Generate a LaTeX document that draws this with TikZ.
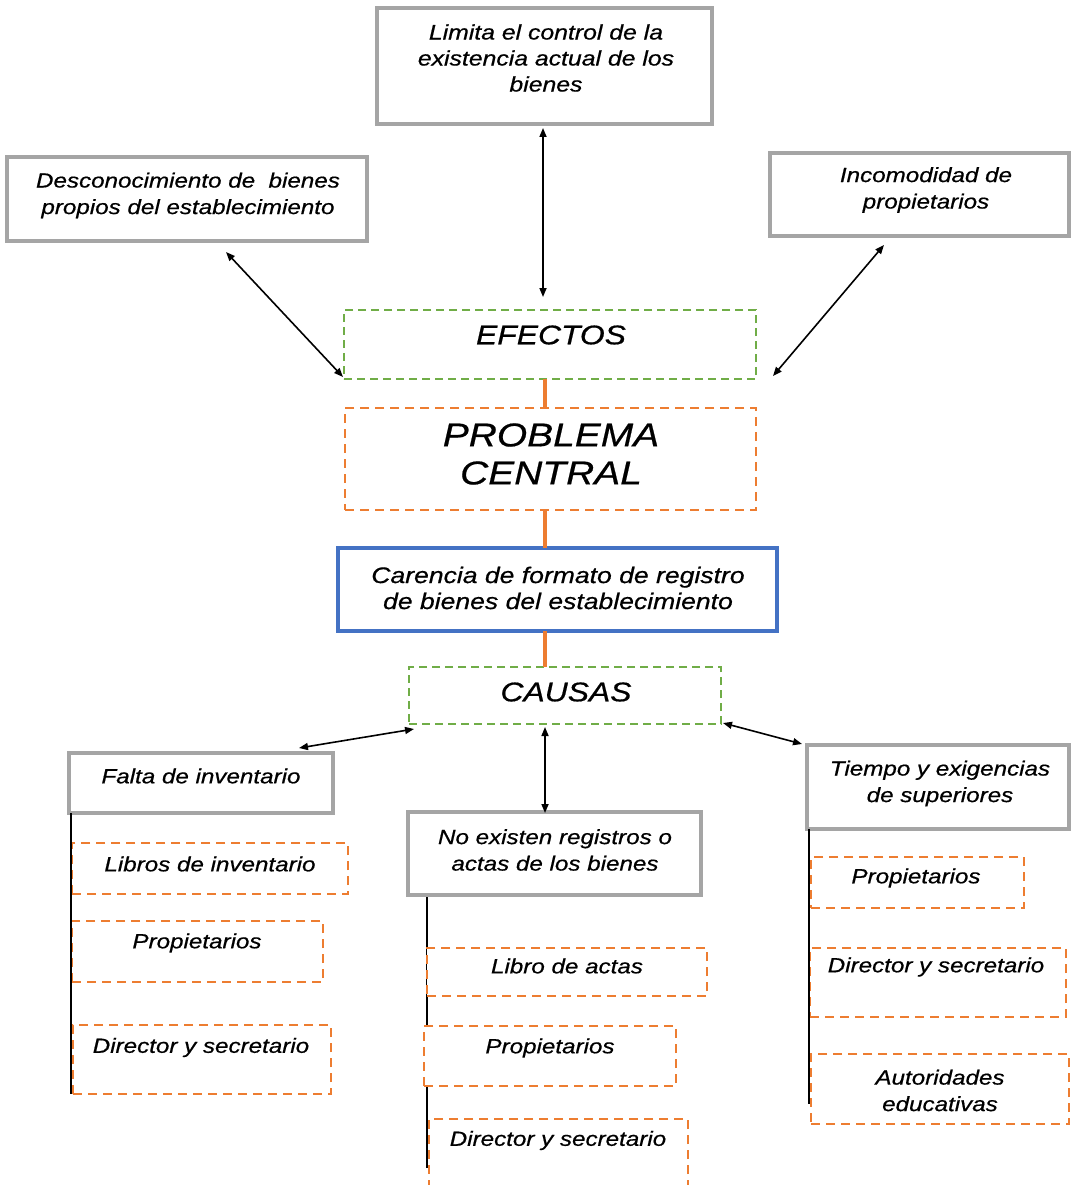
\documentclass[tikz,border=0pt]{standalone}
\usepackage{fontspec}
\setmainfont{Liberation Sans}[FakeStretch=1.18, FakeBold=0.6]
\usetikzlibrary{arrows.meta,calc,backgrounds}

\definecolor{boxgray}{HTML}{A5A5A5}
\definecolor{accgreen}{HTML}{70AD47}
\definecolor{accorange}{HTML}{ED7D31}
\definecolor{accblue}{HTML}{4472C4}

\tikzset{
  boxbase/.style={rectangle, inner sep=0pt, outer sep=0pt, fill=white},
  frame/.style={boxbase, draw=boxgray, line width=3.5pt},
  greenbox/.style={boxbase, draw=accgreen, line width=1.8pt, dash pattern=on 8pt off 5pt},
  orangebox/.style={boxbase, draw=accorange, line width=1.8pt, dash pattern=on 9pt off 6pt},
  bluebox/.style={boxbase, draw=accblue, line width=3.5pt},
  txt/.style={inner sep=0pt, align=center, font=\itshape\fontsize{20.5}{26.5}\selectfont},
  link/.style={draw=accorange, line width=3.5pt},
  arr/.style={draw=black, line width=1.6pt, {Triangle[length=9pt,width=7pt]}-{Triangle[length=9pt,width=7pt]}},
  branch/.style={draw=black, line width=1.6pt},
}

\begin{document}
\begin{tikzpicture}[x=1pt,y=-1pt]
\useasboundingbox (0,0) rectangle (1071,1185);

% vertical axes shared by stacked elements
\coordinate (spine) at (545,0);
\coordinate (topax) at (543,0);

% ---- effects ----
\node[frame, minimum width=335, minimum height=116] (lim) at (544.5,66) {};
\node[txt, font=\itshape\fontsize{21}{26}\selectfont] (tlim) at (546,58)
  {Limita el control de la\\existencia actual de los\\bienes};
\node[frame, minimum width=360, minimum height=84] (des) at (187,199) {};
\node[txt] (tdes) at (188,195.5) {Desconocimiento de\ \ bienes\\propios del establecimiento};
\node[frame, minimum width=299, minimum height=83] (inc) at (919.5,194.5) {};
\node[txt] (tinc) at (926,190) {Incomodidad de\\propietarios};

\node[greenbox, minimum width=412, minimum height=69] (efe) at (550,344.5) {};
\node[txt, font=\itshape\fontsize{27}{30}\selectfont] (tefe) at (551,335) {EFECTOS};

% ---- central problem ----
\node[orangebox, minimum width=411, minimum height=102] (pro) at (550.5,459) {};
\node[txt, font=\itshape\fontsize{33}{38}\selectfont] (tpro) at (551,454) {PROBLEMA\\CENTRAL};
\node[bluebox, minimum width=439, minimum height=83] (car) at (557.5,589.5) {};
\node[txt, font=\itshape\fontsize{22.5}{26}\selectfont] (tcar) at (558,588)
  {Carencia de formato de registro\\de bienes del establecimiento};

% ---- causes ----
\node[greenbox, minimum width=312, minimum height=57] (cau) at (565,695.5) {};
\node[txt, font=\itshape\fontsize{27}{30}\selectfont] (tcau) at (566,692) {CAUSAS};

\node[frame, minimum width=264, minimum height=60] (fal) at (201,783) {};
\node[txt] (tfal) at (201,776) {Falta de inventario};
\node[frame, minimum width=293, minimum height=83] (noe) at (554.5,853.5) {};
\node[txt] (tnoe) at (555,850) {No existen registros o\\actas de los bienes};
\node[frame, minimum width=262, minimum height=84] (tie) at (938,787) {};
\node[txt] (ttie) at (940,783.5) {Tiempo y exigencias\\de superiores};

% left column
\node[orangebox, minimum width=276, minimum height=51] (la1) at (210,868.5) {};
\node[txt] (tla1) at (210,864) {Libros de inventario};
\node[orangebox, minimum width=251, minimum height=61] (la2) at (197.5,951.5) {};
\node[txt] (tla2) at (197,943) {Propietarios};
\node[orangebox, minimum width=258, minimum height=69] (la3) at (202,1059.5) {};
\node[txt] (tla3) at (201,1047.5) {Director y secretario};

% middle column
\node[orangebox, minimum width=280, minimum height=48] (ma1) at (567,972) {};
\node[txt] (tma1) at (567,966) {Libro de actas};
\node[orangebox, minimum width=252, minimum height=60] (ma2) at (550,1056) {};
\node[txt] (tma2) at (550,1048) {Propietarios};
\node[orangebox, minimum width=259, minimum height=81] (ma3) at (558.5,1159.5) {};
\node[txt] (tma3) at (558,1140.5) {Director y secretario};

% right column
\node[orangebox, minimum width=213, minimum height=51] (ra1) at (917.5,882.5) {};
\node[txt] (tra1) at (916,878) {Propietarios};
\node[orangebox, minimum width=256, minimum height=69] (ra2) at (938,982.5) {};
\node[txt] (tra2) at (936,967) {Director y secretario};
\node[orangebox, minimum width=258, minimum height=70] (ra3) at (940,1089) {};
\node[txt] (tra3) at (940,1090.5) {Autoridades\\educativas};

% ---- orange spine ----
\draw[link] (efe.south -| spine) -- (pro.north -| spine);
\draw[link] (pro.south -| spine) -- (car.north -| spine);
\draw[link] (car.south -| spine) -- (cau.north -| spine);

% ---- double arrows ----
\draw[arr] ($(lim.south -| topax)+(0,4)$) -- ($(efe.north -| topax)+(0,-13)$);
\draw[arr] ($(des.south)+(39,11)$) -- ($(efe.south west)+(-1,-2)$);
\draw[arr] ($(inc.south)+(-35.5,9)$) -- ($(efe.south east)+(17,-3)$);
\draw[arr] ($(cau.south west)+(5,5)$) -- ($(fal.north east)+(-34,-5)$);
\draw[arr] ($(cau.south -| spine)+(0,3)$) -- ($(noe.north -| spine)+(0,1)$);
\draw[arr] ($(cau.south east)+(2,-1)$) -- ($(tie.north west)+(-5,-1)$);

% ---- branch lines ----
\draw[branch] ($(fal.south west)+(2,0)$) -- ($(fal.south west |- la3.south)+(2,0)$);
\draw[branch] ($(tie.south west)+(2,0)$) -- ($(tie.south west |- ra3.south)+(2,-20)$);
\begin{scope}[on background layer]
  \draw[branch] ($(noe.south west)+(19,0)$) -- ($(noe.south west |- ma3.north)+(19,49)$);
\end{scope}
\end{tikzpicture}
\end{document}
